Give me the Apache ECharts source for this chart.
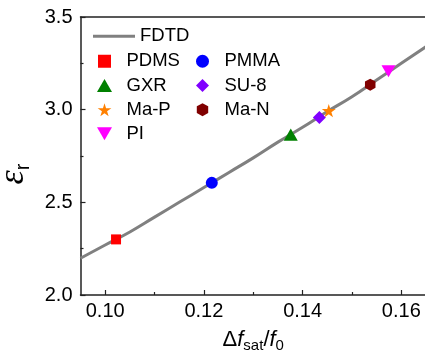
<!DOCTYPE html>
<html>
<head>
<meta charset="utf-8">
<script src="https://cdn.jsdelivr.net/npm/echarts@6/dist/echarts.min.js"></script>
<style>
html,body{margin:0;padding:0;background:#fff;}
#chart{width:425px;height:359px;}
</style>
</head>
<body>
<div id="chart"></div>
<script>
// ---- data ----
var fdtdX = [0.095, 0.100, 0.105, 0.110, 0.115, 0.120, 0.125, 0.130, 0.135, 0.140, 0.145, 0.150, 0.155, 0.160, 0.165];
var fdtdY = [2.198, 2.27, 2.34, 2.42, 2.50, 2.58, 2.66, 2.74, 2.825, 2.905, 2.99, 3.07, 3.16, 3.25, 3.34];
var materials = ['PDMS', 'PMMA', 'GXR', 'SU-8', 'Ma-P', 'Ma-N', 'PI'];
var matX = [0.1022, 0.1216, 0.1376, 0.1434, 0.1453, 0.1537, 0.1574];
var matY = [2.30, 2.605, 2.865, 2.958, 2.995, 3.135, 3.207];
var xMajorTicks = [0.10, 0.12, 0.14, 0.16];
var xMinorTicks = [0.11, 0.13, 0.15];

// ---- styles ----
var matStyle = {
  'PDMS': {symbol: 'path://M0,0 L10,0 L10,10 L0,10 Z', size: 10, color: '#ff0000'},
  'PMMA': {symbol: 'circle', size: 12, color: '#0000ff'},
  'GXR': {symbol: 'path://M5,0 L10,8.66 L0,8.66 Z', size: 14, color: '#008000'},
  'SU-8': {symbol: 'path://M5,0 L10,5 L5,10 L0,5 Z', size: 13, color: '#8000ff'},
  'Ma-P': {symbol: 'path://M50,0 L61,35 L98,35 L68,57 L79,91 L50,70 L21,91 L32,57 L2,35 L39,35 Z', size: 14, color: '#ff8000'},
  'Ma-N': {symbol: 'path://M25,0 L50,14 L50,43 L25,57 L0,43 L0,14 Z', size: 12, color: '#800000'},
  'PI': {symbol: 'path://M0,0 L10,0 L5,8.66 Z', size: 14, color: '#ff00ff'}
};

var FONT = 'Liberation Sans, Arial, sans-serif';
var series = [{
  name: 'FDTD',
  type: 'line',
  xAxisIndex: 0,
  data: fdtdX.map(function (x, i) { return [x, fdtdY[i]]; }),
  showSymbol: false,
  symbol: 'none',
  smooth: true,
  lineStyle: {color: '#808080', width: 3},
  itemStyle: {color: '#808080'},
  z: 1
}];
materials.forEach(function (m, i) {
  var s = matStyle[m];
  series.push({
    name: m,
    type: 'scatter',
    xAxisIndex: 0,
    data: [[matX[i], matY[i]]],
    symbol: s.symbol,
    symbolSize: s.size,
    symbolKeepAspect: true,
    itemStyle: {color: s.color, opacity: 1},
    z: 3
  });
});

var legendCommon = {
  orient: 'vertical',
  padding: 0,
  itemGap: 5.2,
  itemHeight: 13,
  symbolKeepAspect: true,
  textStyle: {fontFamily: FONT, fontSize: 18.5, color: '#000'},
  selectedMode: false
};

var chart = echarts.init(document.getElementById('chart'), null, {renderer: 'canvas'});
chart.setOption({
  animation: false,
  backgroundColor: '#fff',
  grid: {left: 80.5, top: 17, width: 345.5, height: 278, containLabel: false, outerBoundsMode: 'none'},
  legend: [
    Object.assign({}, legendCommon, {data: [{name: 'FDTD', icon: 'rect'}], left: 93, top: 26.75, itemWidth: 42, itemHeight: 3}),
    Object.assign({}, legendCommon, {data: ['PDMS', 'GXR', 'Ma-P', 'PI'], left: 97, top: 51.75, itemWidth: 34}),
    Object.assign({}, legendCommon, {data: ['PMMA', 'SU-8', 'Ma-N'], left: 196, top: 51.75, itemWidth: 34})
  ],
  xAxis: [{
    type: 'value', position: 'bottom', min: 0.095, max: 0.165,
    axisLine: {show: true, lineStyle: {color: '#222', width: 1.5}},
    axisTick: {show: true, inside: true, length: 5, customValues: xMajorTicks, lineStyle: {color: '#222', width: 1.2}},
    axisLabel: {show: true, customValues: xMajorTicks, margin: 6, fontFamily: FONT, fontSize: 20, color: '#000',
      formatter: function (v) { return v.toFixed(2); }},
    splitLine: {show: false},
    name: '{d|\u0394}{f|f}{s|sat}{n|/}{f|f}{s|0}',
    nameLocation: 'middle', nameGap: 32,
    nameTextStyle: {
      rich: {
        d: {fontFamily: FONT, fontSize: 22, color: '#000', lineHeight: 26},
        f: {fontFamily: FONT, fontSize: 22, fontStyle: 'italic', color: '#000', lineHeight: 26},
        n: {fontFamily: FONT, fontSize: 22, color: '#000', lineHeight: 26},
        s: {fontFamily: FONT, fontSize: 15, color: '#000', lineHeight: 12, verticalAlign: 'bottom'}
      }
    }
  }, {
    type: 'value', position: 'bottom', min: 0.095, max: 0.165,
    axisLine: {show: false},
    axisTick: {show: true, inside: true, length: 3, customValues: xMinorTicks, lineStyle: {color: '#222', width: 1.2}},
    axisLabel: {show: false},
    splitLine: {show: false}
  }, {
    type: 'value', position: 'top', min: 0.095, max: 0.165,
    axisLine: {show: true, lineStyle: {color: '#222', width: 1.5}},
    axisTick: {show: false}, axisLabel: {show: false}, splitLine: {show: false}
  }],
  yAxis: [{
    type: 'value', min: 2.0, max: 3.5, interval: 0.5,
    axisLine: {show: true, lineStyle: {color: '#222', width: 1.5}},
    axisTick: {show: true, inside: true, length: 5, lineStyle: {color: '#222', width: 1.2}},
    minorTick: {show: true, splitNumber: 2, length: 3, lineStyle: {color: '#222', width: 1.2}},
    axisLabel: {margin: 8, fontFamily: FONT, fontSize: 20, color: '#000',
      formatter: function (v) { return v.toFixed(1); }},
    splitLine: {show: false},
    minorSplitLine: {show: false},
    name: '{e|\u03b5}{r|r}',
    nameLocation: 'middle', nameGap: 36, nameRotate: 90,
    nameTextStyle: {
      padding: [0, 36, 0, 0],
      rich: {
        e: {fontFamily: 'Liberation Serif, serif', fontSize: 36, fontStyle: 'italic', color: '#000', lineHeight: 40},
        r: {fontFamily: FONT, fontSize: 20, color: '#000', lineHeight: 14, verticalAlign: 'bottom'}
      }
    }
  }],
  series: series
});
</script>
</body>
</html>
